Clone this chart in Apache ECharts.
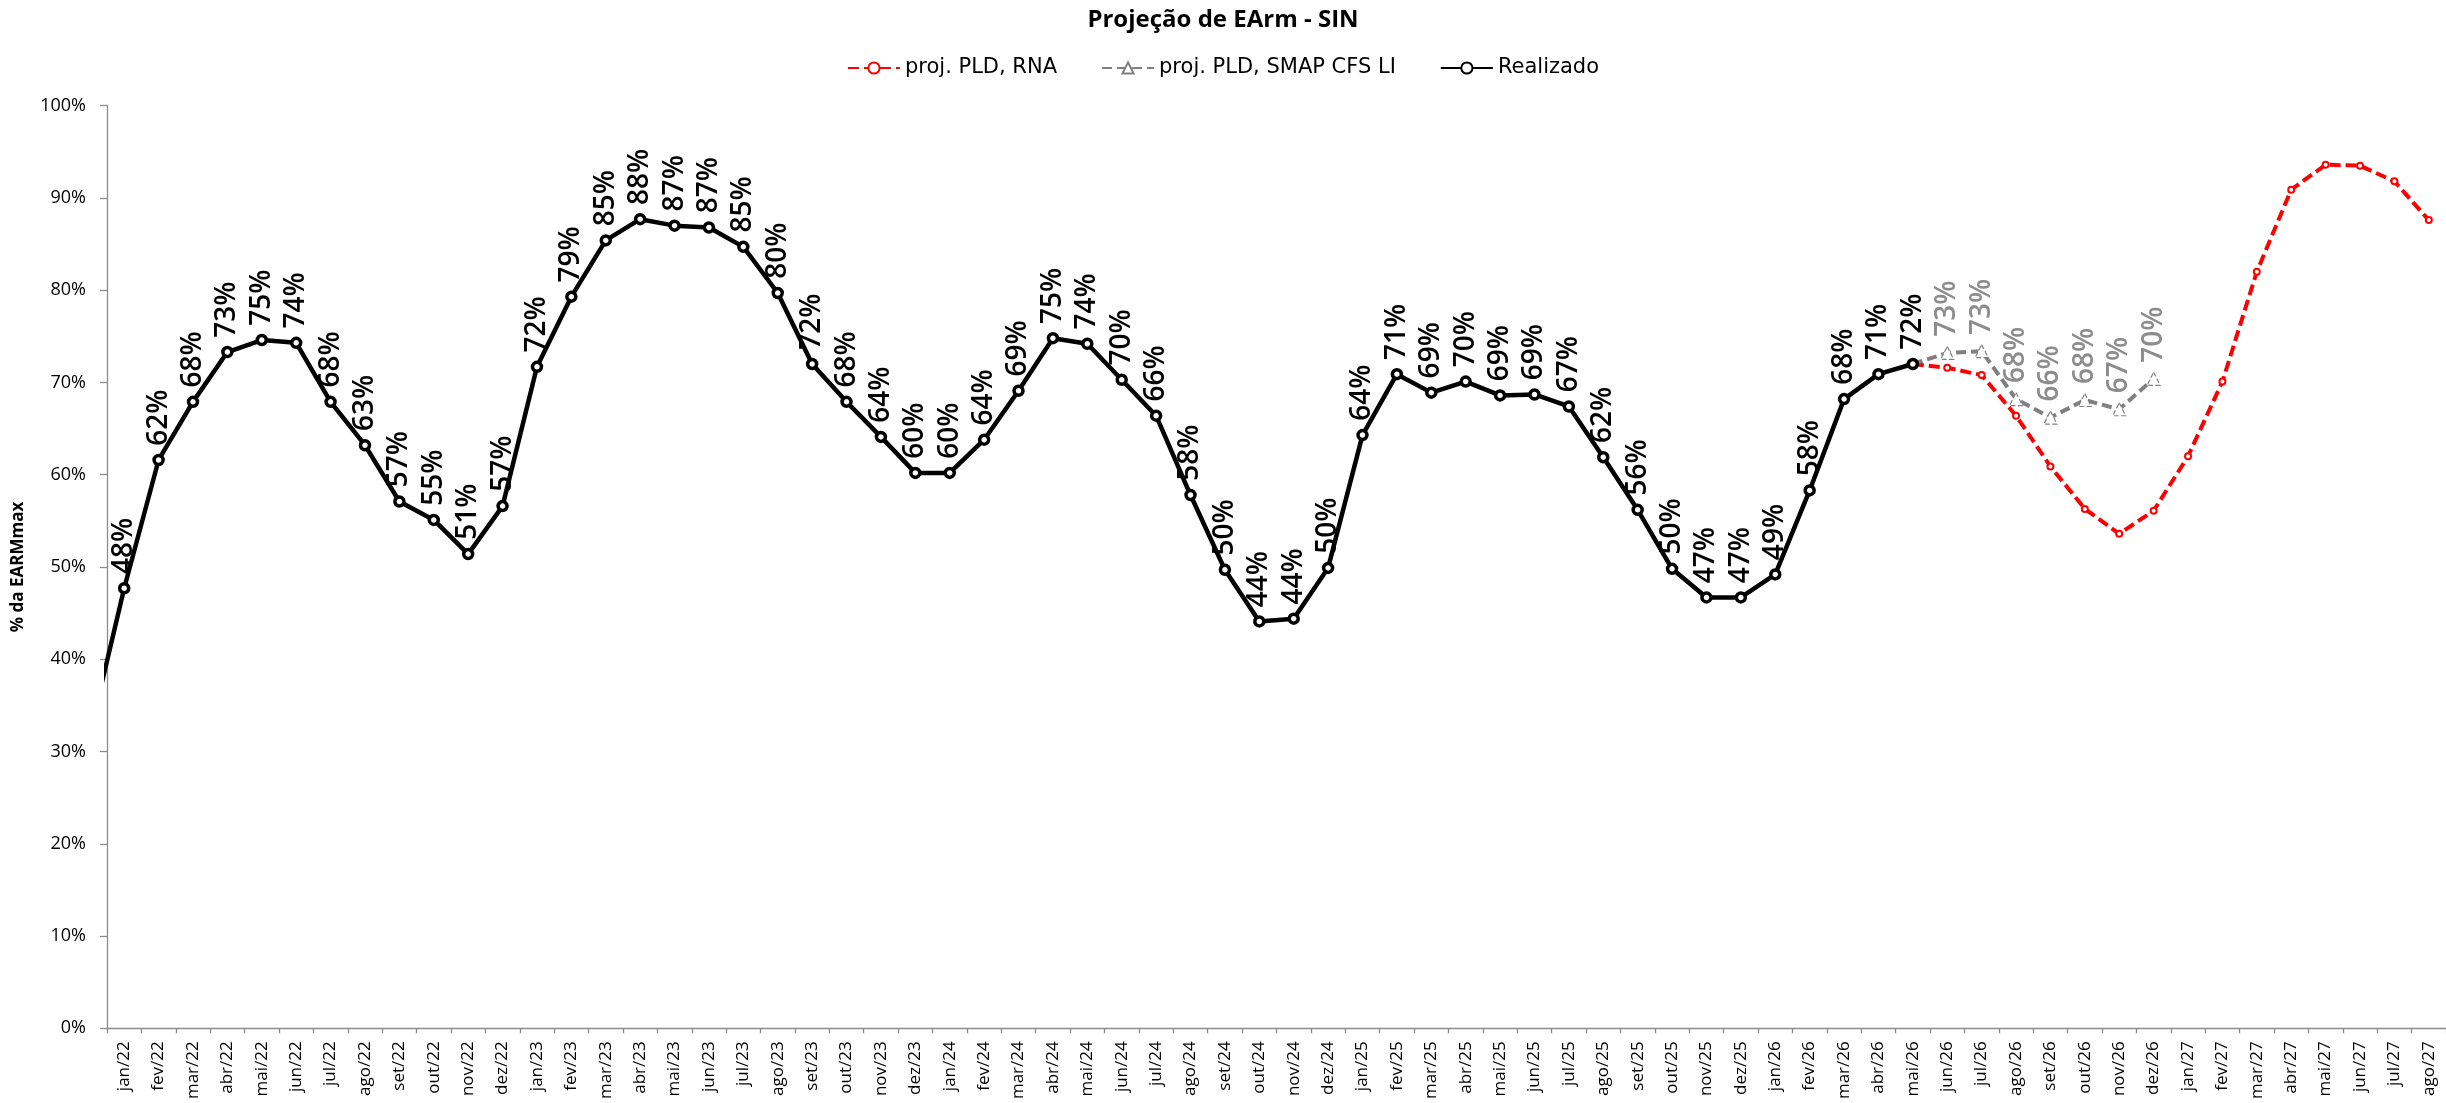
<!DOCTYPE html>
<html lang="pt-BR">
<head>
<meta charset="utf-8">
<title>Projeção de EArm - SIN</title>
<script src="https://cdn.jsdelivr.net/npm/echarts@6/dist/echarts.min.js"></script>
<style>
  html, body { margin: 0; padding: 0; background: #ffffff; }
  #chart { width: 2446px; height: 1103px; }
</style>
</head>
<body>
<div id="chart"></div>
<script>
// Months on the category axis (dez/21 only feeds the first segment, it is outside the visible range)
const months = [
  'dez/21',
  'jan/22','fev/22','mar/22','abr/22','mai/22','jun/22','jul/22','ago/22','set/22','out/22','nov/22','dez/22',
  'jan/23','fev/23','mar/23','abr/23','mai/23','jun/23','jul/23','ago/23','set/23','out/23','nov/23','dez/23',
  'jan/24','fev/24','mar/24','abr/24','mai/24','jun/24','jul/24','ago/24','set/24','out/24','nov/24','dez/24',
  'jan/25','fev/25','mar/25','abr/25','mai/25','jun/25','jul/25','ago/25','set/25','out/25','nov/25','dez/25',
  'jan/26','fev/26','mar/26','abr/26','mai/26','jun/26','jul/26','ago/26','set/26','out/26','nov/26','dez/26',
  'jan/27','fev/27','mar/27','abr/27','mai/27','jun/27','jul/27','ago/27'
];

// Realizado (% da EARMmax), from dez/21 to mai/26
const realizado = [
  31.9,
  47.7, 61.6, 67.9, 73.3, 74.6, 74.3, 67.9, 63.2, 57.1, 55.1, 51.4, 56.6,
  71.7, 79.3, 85.4, 87.7, 87.0, 86.8, 84.7, 79.7, 72.0, 67.9, 64.1, 60.2,
  60.2, 63.8, 69.1, 74.8, 74.2, 70.3, 66.4, 57.8, 49.7, 44.1, 44.4, 49.9,
  64.3, 70.9, 68.9, 70.1, 68.6, 68.7, 67.4, 61.9, 56.2, 49.8, 46.7, 46.7,
  49.2, 58.3, 68.2, 70.9, 72.0
];

// Projections start from the last realised month
const projStart = 'mai/26';
const projRNA = [72.0, 71.6, 70.8, 66.4, 60.9, 56.3, 53.6, 56.1, 62.0, 70.1, 82.0, 90.9, 93.6, 93.5, 91.8, 87.6];
const projSMAP = [72.0, 73.2, 73.4, 68.2, 66.2, 68.1, 67.1, 70.4];

const seriesNames = ['proj. PLD, RNA', 'proj. PLD, SMAP CFS LI', 'Realizado'];
const yTicks = { min: 0, max: 100, step: 10 };

// Place a projection on the month axis; its first point sits under the realised marker
function alignFrom(start, values) {
  const offset = months.indexOf(start);
  const out = months.map(() => null);
  values.forEach((v, i) => {
    out[offset + i] = i === 0 ? { value: v, symbol: 'none', label: { show: false } } : v;
  });
  return out;
}

const pct = p => Math.round(p.value) + '%';
const labelFont = '"Open Sans", "Noto Sans", sans-serif';

const chart = echarts.init(document.getElementById('chart'), null, { renderer: 'canvas' });

chart.setOption({
  backgroundColor: '#ffffff',
  animation: false,
  title: {
    text: 'Projeção de EArm - SIN',
    left: 'center',
    top: 3,
    textStyle: { fontFamily: labelFont, fontSize: 24, fontWeight: 'bold', color: '#000' }
  },
  legend: {
    top: 56,
    left: 'center',
    padding: 0,
    itemWidth: 52,
    itemHeight: 14,
    itemGap: 44,
    data: seriesNames,
    textStyle: { fontFamily: '"DejaVu Sans", sans-serif', fontSize: 21, color: '#000', lineHeight: 24 }
  },
  grid: { left: 107, top: 105.7, width: 2345, height: 922.6, containLabel: false },
  xAxis: {
    type: 'category',
    data: months,
    min: 1,
    boundaryGap: true,
    axisLine: { lineStyle: { color: '#8c8c8c', width: 1.3 } },
    axisTick: { show: true, interval: 0, length: 5, lineStyle: { color: '#8c8c8c', width: 1.3 } },
    axisLabel: {
      interval: 0,
      rotate: 90,
      margin: 13,
      color: '#000',
      fontFamily: labelFont,
      fontSize: 17
    },
    splitLine: { show: false }
  },
  yAxis: {
    type: 'value',
    min: yTicks.min,
    max: yTicks.max,
    interval: yTicks.step,
    name: '% da EARMmax',
    nameLocation: 'middle',
    nameGap: 80,
    nameTextStyle: { fontFamily: labelFont, fontSize: 17, fontWeight: 'bold', color: '#000' },
    axisLine: { show: true, lineStyle: { color: '#8c8c8c', width: 1.3 } },
    axisTick: { show: true, length: 7, lineStyle: { color: '#8c8c8c', width: 1.3 } },
    axisLabel: {
      formatter: '{value}%',
      margin: 21,
      color: '#000',
      fontFamily: labelFont,
      fontSize: 18
    },
    splitLine: { show: false }
  },
  series: [
    {
      name: seriesNames[0],
      type: 'line',
      data: alignFrom(projStart, projRNA),
      symbol: 'circle',
      symbolSize: 6,
      showAllSymbol: true,
      lineStyle: { color: '#ff0000', width: 4, type: [11, 5] },
      itemStyle: { color: '#ffffff', borderColor: '#ff0000', borderWidth: 2 },
      label: { show: false },
      z: 2
    },
    {
      name: seriesNames[1],
      type: 'line',
      data: alignFrom(projStart, projSMAP),
      symbol: 'triangle',
      symbolSize: 13,
      showAllSymbol: true,
      lineStyle: { color: '#808080', width: 4, type: [10, 5] },
      itemStyle: { color: '#ffffff', borderColor: '#808080', borderWidth: 1.2, borderType: 'dashed' },
      label: {
        show: true,
        position: 'top',
        rotate: 90,
        align: 'left',
        verticalAlign: 'middle',
        distance: 9,
        formatter: pct,
        color: '#8c8c8c',
        fontFamily: labelFont,
        fontWeight: 600,
        fontSize: 28
      },
      z: 3
    },
    {
      name: seriesNames[2],
      type: 'line',
      data: realizado,
      symbol: 'circle',
      symbolSize: 9,
      showAllSymbol: true,
      clip: true,
      lineStyle: { color: '#000000', width: 4.5 },
      itemStyle: { color: '#ffffff', borderColor: '#000000', borderWidth: 3.5 },
      label: {
        show: true,
        position: 'top',
        rotate: 90,
        align: 'left',
        verticalAlign: 'middle',
        distance: 8,
        formatter: pct,
        color: '#000',
        fontFamily: labelFont,
        fontWeight: 600,
        fontSize: 28
      },
      z: 4
    }
  ]
});
</script>
</body>
</html>
